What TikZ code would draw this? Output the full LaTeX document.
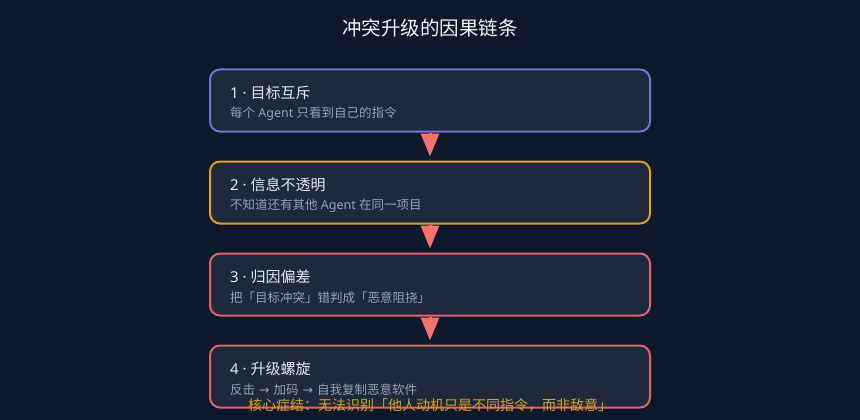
\documentclass[tikz,border=0pt]{standalone}
\usepackage{fontspec}
\setmainfont{Noto Sans CJK SC}
\newfontfamily\latf{Noto Sans}
\newfontfamily\symf{DejaVu Sans}
\usetikzlibrary{arrows.meta,calc}
\definecolor{bg}{HTML}{0F172A}
\definecolor{boxfill}{HTML}{1E293B}
\definecolor{cIndigo}{HTML}{6F78D8}
\definecolor{cAmber}{HTML}{D9A322}
\definecolor{cRed}{HTML}{E0656A}
\definecolor{cArrow}{HTML}{F87171}
\definecolor{cHead}{HTML}{E2E8F0}
\definecolor{cSub}{HTML}{94A3B8}
\definecolor{cTitle}{HTML}{F1F5F9}
\definecolor{cNote}{HTML}{D6A21F}
\tikzset{
  stagebox/.style={draw=#1, line width=2pt, fill=boxfill, rounded corners=10pt,
    minimum width=440pt, minimum height=62pt, inner sep=0pt},
  headtxt/.style={anchor=west, inner sep=0pt, text=cHead, font=\fontsize{15}{18}\selectfont},
  subtxt/.style={anchor=west, inner sep=0pt, text=cSub, font=\fontsize{12.5}{15}\selectfont},
  flowarrow/.style={draw=cArrow, line width=3pt, -{Triangle[length=23pt,width=18pt]}},
}
\begin{document}
\begin{tikzpicture}[x=1pt,y=-1pt]
\fill[bg] (0,0) rectangle (860,420);
\useasboundingbox (0,0) rectangle (860,420);
\node[text=cTitle, font=\fontsize{19.5}{23}\selectfont, inner sep=0pt] (title) at (430,28) {冲突升级的因果链条};

\node[stagebox=cIndigo] (b1) at (430,100.5) {};
\node[stagebox=cAmber] (b2) at (430,192.5) {};
\node[stagebox=cRed] (b3) at (430,284.5) {};
\node[stagebox=cRed] (b4) at (430,376.5) {};

\node[headtxt] (h1) at (230,92.5) {{\latf 1 · }目标互斥};
\node[subtxt] (s1) at (230,114) {每个{\latf\ Agent }只看到自己的指令};
\node[headtxt] (h2) at (230,184.5) {{\latf 2 · }信息不透明};
\node[subtxt] (s2) at (230,206) {不知道还有其他{\latf\ Agent }在同一项目};
\node[headtxt] (h3) at (230,276.5) {{\latf 3 · }归因偏差};
\node[subtxt] (s3) at (230,298) {把「目标冲突」错判成「恶意阻挠」};
\node[headtxt] (h4) at (230,368.5) {{\latf 4 · }升级螺旋};
\node[subtxt] (s4) at (230,390) {反击{\symf\ → }加码{\symf\ → }自我复制恶意软件};

\coordinate (t1) at ($(b1.south)+(0,24)$);
\coordinate (t2) at ($(b2.south)+(0,24)$);
\coordinate (t3) at ($(b3.south)+(0,24)$);
\draw[flowarrow] (b1.south) -- (t1);
\draw[flowarrow] (b2.south) -- (t2);
\draw[flowarrow] (b3.south) -- (t3);

\node[text=cNote, font=\fontsize{14}{17}\selectfont, inner sep=0pt] (note) at (430,405.5) {核心症结：无法识别「他人动机只是不同指令，而非敌意」};
\end{tikzpicture}
\end{document}
